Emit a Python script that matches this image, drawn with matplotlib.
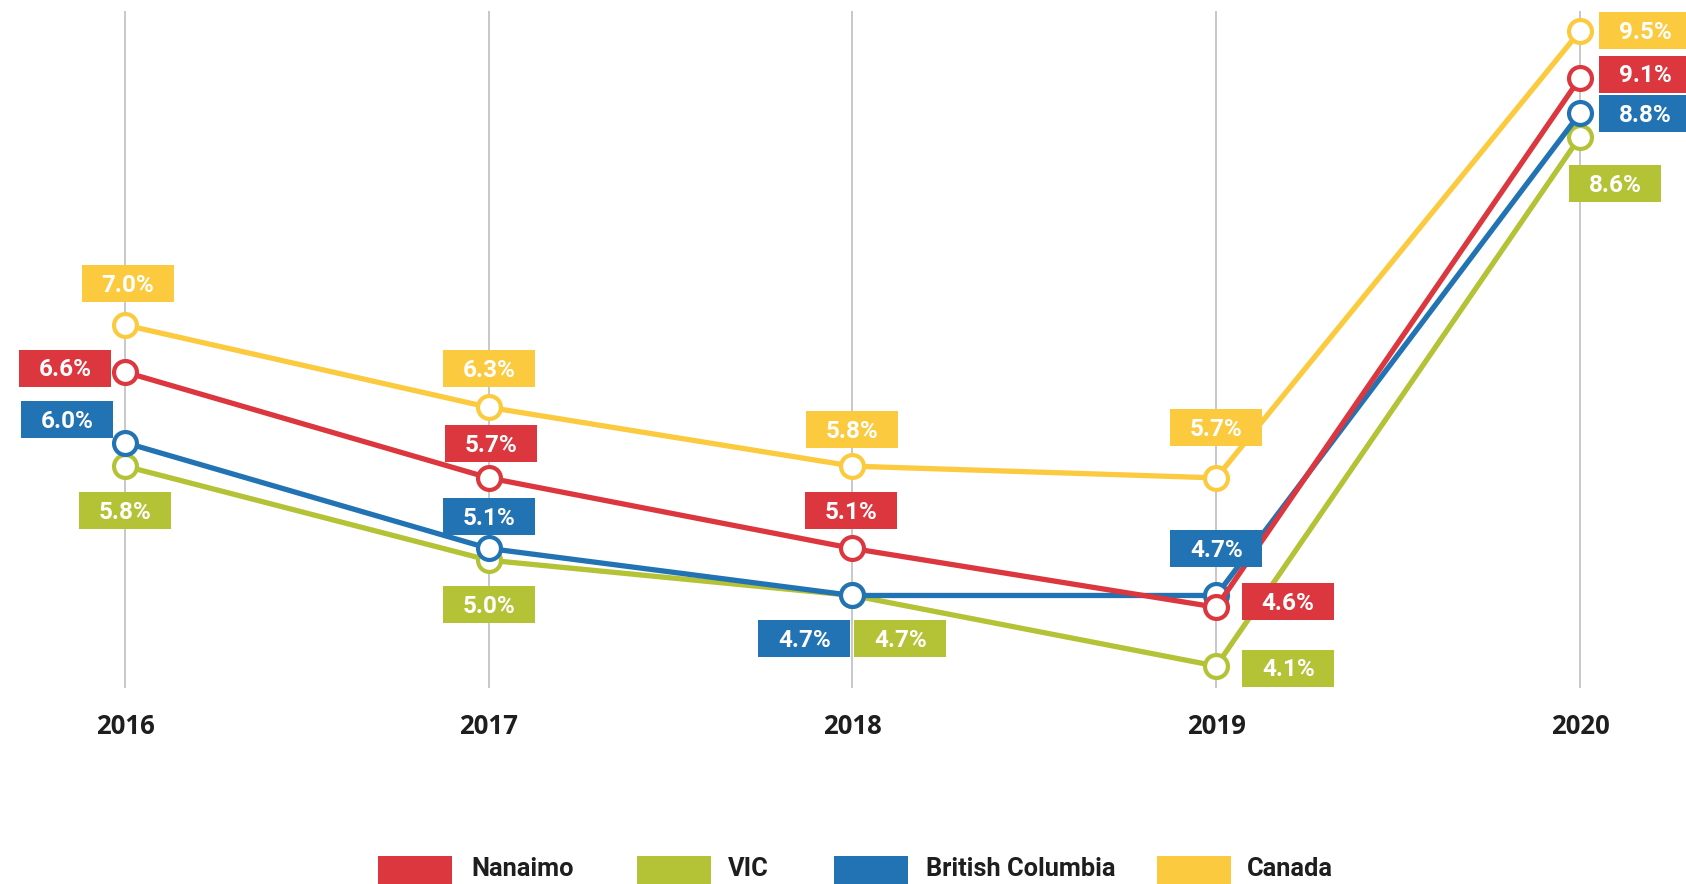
import matplotlib
matplotlib.use("Agg")
import matplotlib.pyplot as plt
from matplotlib.patches import Rectangle
from matplotlib.transforms import Affine2D, ScaledTranslation, blended_transform_factory

# ---- data ----
years = ["2016", "2017", "2018", "2019", "2020"]
series_names = ["Nanaimo", "VIC", "British Columbia", "Canada"]
nanaimo = [6.6, 5.7, 5.1, 4.6, 9.1]
vic = [5.8, 5.0, 4.7, 4.1, 8.6]
british_columbia = [6.0, 5.1, 4.7, 4.7, 8.8]
canada = [7.0, 6.3, 5.8, 5.7, 9.5]

colors = {
    "Nanaimo": "#DC363E",
    "VIC": "#B4C236",
    "British Columbia": "#2273B4",
    "Canada": "#FCCA3E",
}
values = {
    "Nanaimo": nanaimo,
    "VIC": vic,
    "British Columbia": british_columbia,
    "Canada": canada,
}

# value-label placement relative to each point, in pixels (dx right, dy down)
label_offsets = {
    "Nanaimo": [(-60, -4), (2, -34), (-1, -38), (72, -6), (65, -4)],
    "VIC": [(0, 44), (0, 44), (48, 43), (72, 2), (35, 47)],
    "British Columbia": [(-58, -23), (0, -32), (-48, 43), (0, -47), (65, 0)],
    "Canada": [(3, -41), (0, -39), (0, -37), (0, -50), (65, 0)],
}

W, H, DPI = 1686, 884, 100
fig = plt.figure(figsize=(W / DPI, H / DPI), dpi=DPI)
ax = fig.add_axes([0, 0, 1, 1])
ax.set_axis_off()

x = list(range(len(years)))
ax.set_xlim(-0.3436, 4.2914)
ax.set_ylim(2.2466, 9.7636)

# vertical year guides
ax.vlines(x, 3.913, 9.67, color="#C8C8C8", linewidth=1.4, zorder=0)

# lines with hollow markers; drawn so Canada sits on top
draw_order = ["VIC", "British Columbia", "Nanaimo", "Canada"]
for z, name in enumerate(draw_order):
    ax.plot(x, values[name], color=colors[name], linewidth=3.8,
            marker="o", markersize=16.5, markerfacecolor="white",
            markeredgecolor=colors[name], markeredgewidth=3.0,
            solid_capstyle="round", zorder=2 + z)

# value boxes
box_w, box_h = 92, 37
cap_half = 8.4
for name in series_names:
    for xi, v, (dx, dy) in zip(x, values[name], label_offsets[name]):
        tr = Affine2D().translate(dx, -dy) + ScaledTranslation(xi, v, ax.transData)
        ax.add_patch(Rectangle((-box_w / 2, -box_h / 2), box_w, box_h,
                               transform=tr, facecolor=colors[name],
                               edgecolor="none", zorder=10, clip_on=False))
        ax.annotate(f"{v:.1f}%", xy=(xi, v), xytext=(dx, -dy - cap_half),
                    textcoords="offset pixels", ha="center", va="baseline",
                    color="white", fontsize=17.5, fontweight="bold",
                    family=["Roboto", "DejaVu Sans"], zorder=11)

# year labels under the guides
year_tr = blended_transform_factory(ax.transData, fig.transFigure)
for xi, yr in zip(x, years):
    ax.text(xi, 1 - 726 / H, yr, transform=year_tr, ha="center", va="center",
            fontsize=18.5, fontweight="bold", color="#1E1E1E",
            family=["Open Sans", "DejaVu Sans"])

# legend row
swatch_x = [378, 637, 834, 1157]
text_x = [471, 728, 926, 1247]
for name, sx, tx in zip(series_names, swatch_x, text_x):
    fig.patches.append(Rectangle((sx / W, 0), 74 / W, (884 - 856) / H,
                                 transform=fig.transFigure,
                                 facecolor=colors[name], edgecolor="none"))
    fig.text(tx / W, 1 - 869 / H, name, ha="left", va="center",
             fontsize=18.3, fontweight="bold", color="#1E1E1E",
             family=["Roboto", "DejaVu Sans"])

fig.savefig("out.png", dpi=DPI, facecolor="white")
